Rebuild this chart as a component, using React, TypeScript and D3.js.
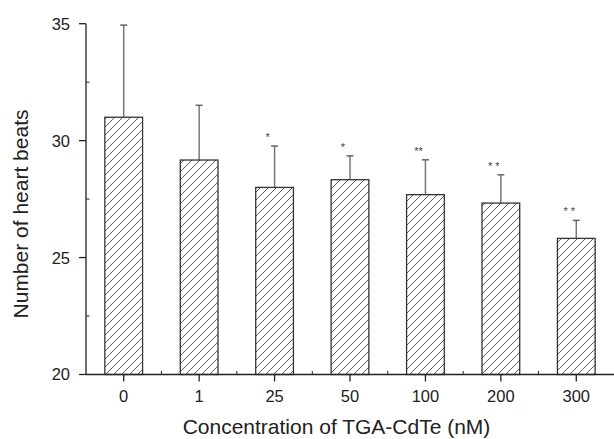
import React from "react";
import * as d3 from "d3";

const categories = ["0", "1", "25", "50", "100", "200", "300"];
const means = [31.0, 29.17, 28.0, 28.33, 27.69, 27.33, 25.82];
const errors = [3.94, 2.34, 1.77, 1.02, 1.49, 1.21, 0.77];
const marks = ["", "", "*", "*", "**", "* *", "* *"];
const yTicks = [20, 25, 30, 35];
const yMinorTicks = [22.5, 27.5, 32.5];

const W = 614;
const H = 439;
const left = 86;
const right = 614;
const top = 23.7;
const bottom = 374.5;
const font = "'Liberation Sans', Arial, Helvetica, sans-serif";

export default function App() {
  const x = d3.scaleBand<string>().domain(categories).range([left, right]).paddingInner(0.5).paddingOuter(0.25);
  const step = x.step();
  const y = d3.scaleLinear().domain([20, 35]).range([bottom, top]);
  const capHalf = 3.5;

  return (
    <svg width={W} height={H} style={{ position: "absolute", left: 0, top: 0, background: "#fff" }}>
      <defs>
        <pattern id="hatch" patternUnits="userSpaceOnUse" width={8} height={8}>
          <path d="M-2,2 L2,-2 M0,8 L8,0 M6,10 L10,6" stroke="#333" strokeWidth={0.8} />
        </pattern>
      </defs>
      {categories.map((c, i) => {
        const bx = x(c)!;
        const bw = x.bandwidth();
        const cx = bx + bw / 2;
        const yTop = y(means[i]);
        const yErr = y(means[i] + errors[i]);
        return (
          <g key={c}>
            <line x1={cx} x2={cx} y1={yTop} y2={yErr} stroke="#777" strokeWidth={1.5} />
            <line x1={cx - capHalf} x2={cx + capHalf} y1={yErr} y2={yErr} stroke="#666" strokeWidth={1.5} />
            <rect x={bx} y={yTop} width={bw} height={bottom - yTop} fill="url(#hatch)" stroke="#333" strokeWidth={1.3} />
            {marks[i] && (
              <text x={cx - 7} y={yErr - 5} textAnchor="middle" fontFamily={font} fontSize={11} fill="#444">
                {marks[i]}
              </text>
            )}
          </g>
        );
      })}
      {/* y axis */}
      <line x1={left} x2={left} y1={top} y2={bottom} stroke="#222" strokeWidth={1.3} />
      {yTicks.map((t) => (
        <g key={t}>
          <line x1={left - 7} x2={left} y1={y(t)} y2={y(t)} stroke="#222" strokeWidth={1.3} />
          <text x={left - 16} y={y(t)} dy="0.36em" textAnchor="end" fontFamily={font} fontSize={16.5} fill="#222">
            {t}
          </text>
        </g>
      ))}
      {yMinorTicks.map((t) => (
        <line key={t} x1={left} x2={left + 3.5} y1={y(t)} y2={y(t)} stroke="#222" strokeWidth={1} />
      ))}
      {/* x axis */}
      <line x1={left} x2={right} y1={bottom} y2={bottom} stroke="#222" strokeWidth={1.3} />
      {categories.map((c) => {
        const cx = x(c)! + x.bandwidth() / 2;
        return (
          <g key={c}>
            <line x1={cx} x2={cx} y1={bottom} y2={bottom + 7} stroke="#222" strokeWidth={1.3} />
            <text x={cx} y={402} textAnchor="middle" fontFamily={font} fontSize={16.5} fill="#222">
              {c}
            </text>
          </g>
        );
      })}
      {categories.slice(1).map((c) => {
        const bx = x(c)! + x.bandwidth() / 2 - step / 2;
        return <line key={c} x1={bx} x2={bx} y1={bottom} y2={bottom - 3.5} stroke="#222" strokeWidth={1} />;
      })}
      <text x={336.5} y={434} textAnchor="middle" fontFamily={font} fontSize={21} fill="#222">
        Concentration of TGA-CdTe (nM)
      </text>
      <text
        transform={`translate(28, ${(110 + 318) / 2}) rotate(-90)`}
        textAnchor="middle"
        fontFamily={font}
        fontSize={21}
        fill="#222"
      >
        Number of heart beats
      </text>
    </svg>
  );
}
